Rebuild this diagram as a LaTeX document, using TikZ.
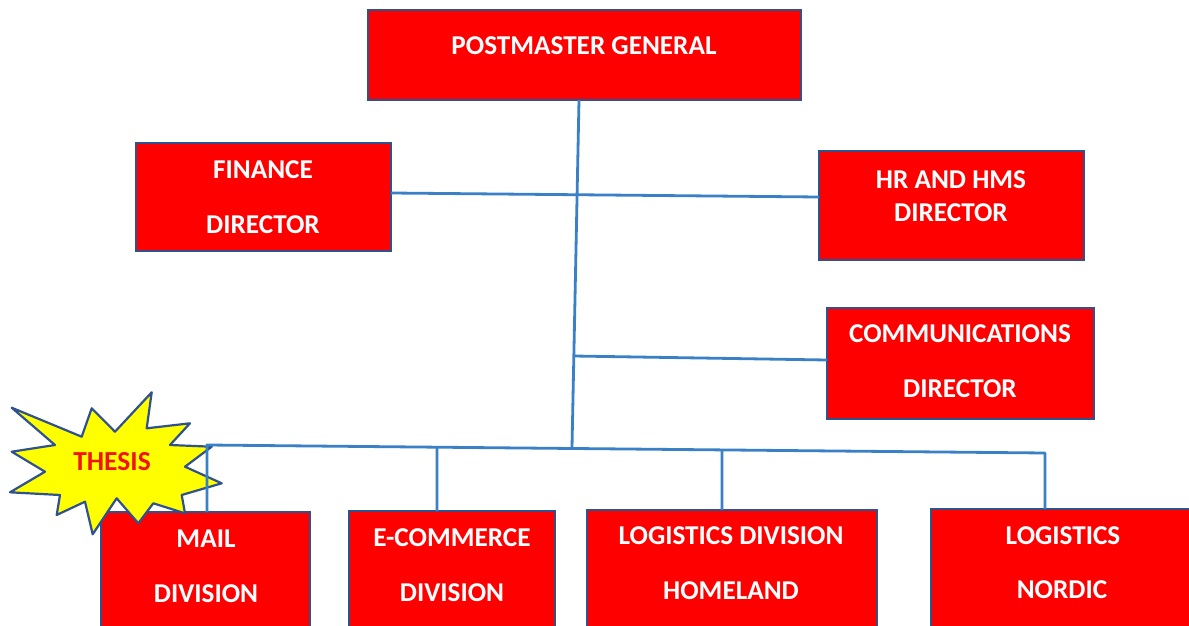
\documentclass[tikz,border=0pt]{standalone}
\usepackage{fontspec}
\setmainfont{Carlito}
\usetikzlibrary{calc}
\definecolor{boxred}{RGB}{255,0,0}
\definecolor{boxedge}{RGB}{47,82,143}
\definecolor{linkblue}{RGB}{58,128,198}
\definecolor{burst}{RGB}{255,255,0}
\definecolor{thesisred}{RGB}{240,20,10}
\begin{document}
\begin{tikzpicture}[x=1pt,y=-1pt,
  unitbox/.style={draw=boxedge, line width=1.6pt, fill=boxred, inner sep=0pt, outer sep=0pt},
  lbl/.style={text=white, font=\fontsize{27.2}{32}\selectfont\bfseries, inner sep=0pt},
  link/.style={draw=linkblue, line width=2.8pt, line join=round}]
\useasboundingbox (0,0) rectangle (1189,626);

% organisation units
\node[unitbox, minimum width=433pt, minimum height=90pt]  (pg)   at (584.5,55)  {};
\node[unitbox, minimum width=255pt, minimum height=108pt] (fin)  at (263.5,197) {};
\node[unitbox, minimum width=265pt, minimum height=109pt] (hr)   at (951.5,205.5) {};
\node[unitbox, minimum width=267pt, minimum height=111pt] (com)  at (960.5,363.5) {};
\node[unitbox, minimum width=209pt, minimum height=138pt] (mail) at (205.5,581) {};
\node[unitbox, minimum width=206pt, minimum height=139pt] (ecom) at (452,580.5) {};
\node[unitbox, minimum width=290pt, minimum height=140pt] (home) at (732,580) {};
\node[unitbox, minimum width=269pt, minimum height=141pt] (nord) at (1065.5,579.5) {};

% starburst marking the mail division
\filldraw[fill=burst, draw=boxedge, line width=2.2pt, line join=round]
  (11.7,407.7) -- (81.7,436.7) -- (91.7,408.3) -- (115,431.7) -- (151.7,392.3)
  -- (146.7,428.3) -- (190,423.3) -- (170,445) -- (211.7,446.7) -- (185,466.7)
  -- (221.7,483.3) -- (181.7,495) -- (185,513.3) -- (153.3,503.3) -- (138.3,523.3)
  -- (116.7,498.3) -- (92.7,534.3) -- (85,501.7) -- (56.7,515) -- (60,495)
  -- (10,492.3) -- (45,471.7) -- (11.7,451.7) -- (55,445) -- cycle;

% reporting lines
\path (pg.south) ++(-5.5,0) coordinate (trunk-top);
\coordinate (bus-l) at (207,445);
\coordinate (bus-r) at (1045,453);
\coordinate (trunk-bot) at (572,447.5);
\coordinate (com-tap) at (573.8,356);
\path (fin.east) ++(0,-4) coordinate (fin-out);
\path (hr.west) ++(0,-8.5) coordinate (hr-in);
\path (com.west) ++(0,-3.5) coordinate (com-in);
\path (mail.north) ++(1.5,0) coordinate (mail-in);
\path (ecom.north) ++(-15,0) coordinate (ecom-in);
\path (home.north) ++(-10,0) coordinate (home-in);
\path (nord.north) ++(-20.5,0) coordinate (nord-in);
\coordinate (ecom-tap) at ($(bus-l)!0.2745!(bus-r)$);
\coordinate (home-tap) at ($(bus-l)!0.6146!(bus-r)$);

\draw[link] (trunk-top) -- (trunk-bot);
\draw[link] (fin-out) -- (hr-in);
\draw[link] (com-tap) -- (com-in);
\draw[link] (mail-in) -- (bus-l) -- (bus-r) -- (nord-in);
\draw[link] (ecom-tap) -- (ecom-in);
\draw[link] (home-tap) -- (home-in);

% unit titles
\node[lbl] (pg-t)    at (584,46)  {POSTMASTER GENERAL};
\node[lbl] (fin-t1)  at (263,170) {FINANCE};
\node[lbl] (fin-t2)  at (263,225) {DIRECTOR};
\node[lbl] (hr-t1)   at (951,180) {HR AND HMS};
\node[lbl] (hr-t2)   at (951,213) {DIRECTOR};
\node[lbl] (com-t1)  at (960,334) {COMMUNICATIONS};
\node[lbl] (com-t2)  at (960,389) {DIRECTOR};
\node[lbl] (mail-t1) at (206,539) {MAIL};
\node[lbl] (mail-t2) at (206,594) {DIVISION};
\node[lbl] (ecom-t1) at (452,538) {E-COMMERCE};
\node[lbl] (ecom-t2) at (452,593) {DIVISION};
\node[lbl] (home-t1) at (731,536) {LOGISTICS DIVISION};
\node[lbl] (home-t2) at (731,591) {HOMELAND};
\node[lbl] (nord-t1) at (1063,536) {LOGISTICS};
\node[lbl] (nord-t2) at (1062,590) {NORDIC};

\node[lbl, text=thesisred, font=\fontsize{27.5}{32}\selectfont\bfseries] (thesis) at (112,462) {THESIS};
\end{tikzpicture}
\end{document}
